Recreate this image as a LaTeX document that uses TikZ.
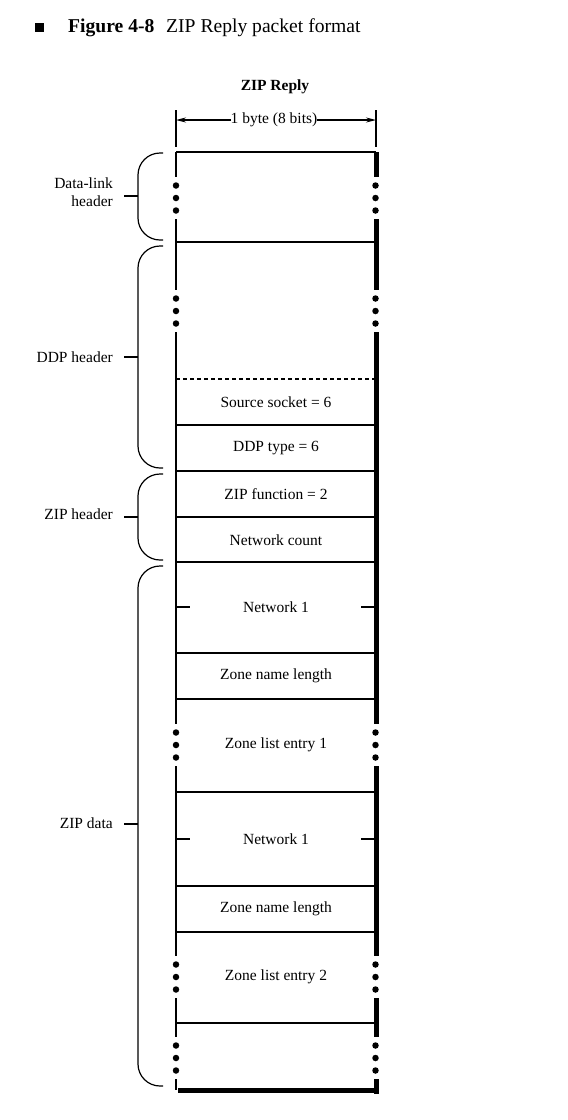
\documentclass[tikz,border=0pt]{standalone}
\usepackage{fontspec}
\setmainfont{Liberation Serif}
\usetikzlibrary{arrows.meta,positioning,calc}

\newcommand{\fieldfont}{\fontsize{15.5}{18}\selectfont}
\newcommand{\titlefont}{\fontsize{19.6}{22}\selectfont}

\begin{document}
\begin{tikzpicture}[x=1pt,y=-1pt,>={Stealth[length=10pt,width=5pt]},
  every node/.style={font=\fieldfont,inner sep=0pt},
  thinrule/.style={line width=1.2pt},
  thickrule/.style={line width=2.3pt},
  shadowrule/.style={line width=5.5pt},
  dotmark/.style={circle,fill=black,minimum size=6.5pt},
  sidetext/.style={anchor=east,align=right},
  bracket/.style={thinrule,rounded corners=22pt}]
\useasboundingbox (0,0) rectangle (568,1120);
% title
\node[fill=black,minimum size=9pt] (bullet) at (39.5,27.5) {};
\node[anchor=base west,font=\titlefont\bfseries] (fignum) at (68,32) {Figure 4-8};
\node[anchor=base west,font=\titlefont] (figname) at (166,32) {ZIP Reply packet format};
\node[anchor=base,font=\fieldfont\bfseries] (pkt) at (275,90) {ZIP Reply};
% one byte wide
\node (bytew) at (274,120) {1 byte (8 bits)};
\coordinate (wl) at (176,120);
\coordinate (wr) at (376,120);
\draw[thinrule] (176,110) -- (176,147) (376,110) -- (376,147);
\draw[thinrule,->] (bytew.west) -- (wl);
\draw[thinrule,->] (bytew.east) -- (wr);
% sides of the packet, broken where the dots are
\foreach \a/\b in {152/177,219/290,332/724,766/956,998/1037,1079/1090}
  \draw[thinrule] (176,\a) -- (176,\b);
\foreach \a/\b in {152/177,219/290,332/724,766/956,998/1037,1079/1093.5}
  \draw[shadowrule] (376.5,\a) -- (376.5,\b);
\draw[shadowrule] (178,1090.5) -- (379.25,1090.5);
\foreach \c in {198,311,745,977,1058}
  \foreach \x/\s in {176/l,375.5/r}
    \foreach \d [count=\k] in {-12.5,0,12.5}
      \node[dotmark] (dot\c\s\k) at (\x,\c+\d) {};
% field rules
\draw[line width=1.8pt] (176,152) -- (376,152);
\foreach \y in {242,471,562,792}
  \draw[thickrule] (176,\y) -- (376,\y);
\foreach \y in {425,517,653,699,886,932,1023}
  \draw[thinrule] (176,\y) -- (376,\y);
\draw[thinrule,dash pattern=on 4pt off 3pt] (176,379) -- (376,379);
% fields
\foreach \name/\y/\txt in {srcsock/402/Source socket = 6,ddptype/448/DDP type = 6,
    zipfn/494/ZIP function = 2,netcnt/540/Network count,neta/607/Network 1,
    zlena/676/Zone name length,zonea/745/Zone list entry 1,netb/839/Network 1,
    zlenb/909/Zone name length,zoneb/977/Zone list entry 2}
  \node (\name) at (276,\y) {\txt};
\foreach \n in {neta,netb}{
  \draw[thinrule] ([xshift=-100pt]\n.center) -- ++(14,0);
  \draw[thinrule] ([xshift=100pt]\n.center) -- ++(-15,0);}
% headers on the left
\foreach \name/\top/\mid/\bot/\ly/\txt in {dlhdr/153/196/240/192/Data-link\\header,
    ddphdr/246/357/468/357/DDP header,ziphdr/474/517/560/514/ZIP header,
    zipdata/566/824/1086/823/ZIP data}{
  \node[sidetext] (\name) at (113,\ly) {\txt};
  \draw[bracket] (163,\top) -| (138,\mid) |- (163,\bot);
  \draw[thinrule] (124,\mid) -- (138,\mid);}
\end{tikzpicture}
\end{document}
